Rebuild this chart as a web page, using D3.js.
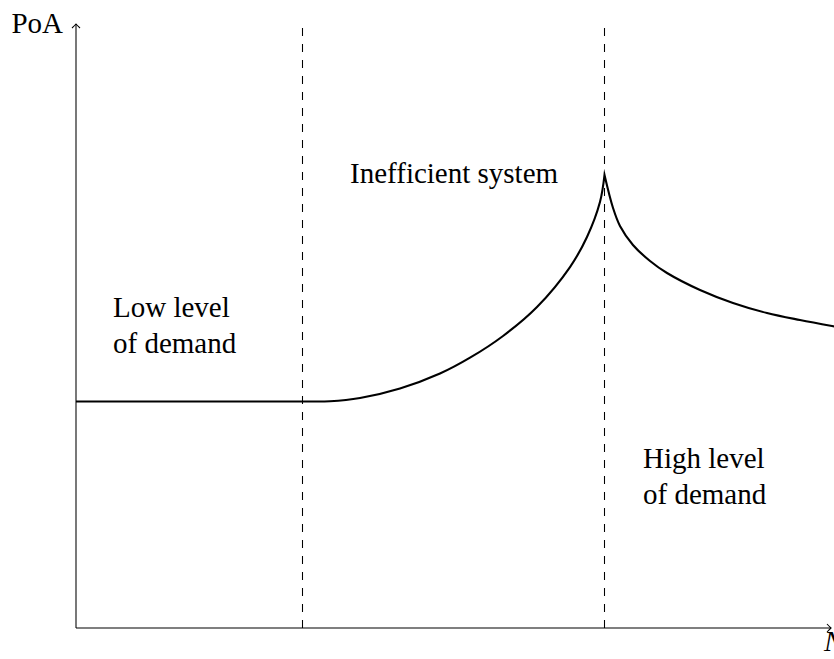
<!DOCTYPE html>
<html>
<head>
<meta charset="utf-8">
<script src="https://cdn.jsdelivr.net/npm/d3@7"></script>
<style>
  html, body { margin: 0; padding: 0; background: #fff; }
  svg { display: block; }
  text { font-family: "Liberation Serif", "Times New Roman", serif; fill: #000; }
</style>
</head>
<body>
<svg id="chart" width="834" height="659"></svg>
<script>
// ---- data (in chart units) ----
const riseX = [0, 3, 3.364, 3.762, 4.291, 4.821, 5.219, 5.656, 6.106, 6.543, 6.768, 6.94, 7];
const riseY = [3, 3, 3.003, 3.046, 3.172, 3.37, 3.58, 3.868, 4.252, 4.781, 5.179, 5.642, 6];
const fallX = [7, 7.113, 7.205, 7.377, 7.603, 7.828, 8.265, 8.702, 9.152, 9.589, 10.013, 10.1];
const fallY = [6, 5.563, 5.325, 5.073, 4.861, 4.702, 4.477, 4.305, 4.172, 4.079, 4.0, 3.985];
const boundaries = [3, 7];
const xLabel = "N";
const yLabel = "PoA";
const regionLabels = [
  { lines: ["Low level", "of demand"], x: 0.49, y: 4.119 },
  { lines: ["Inefficient system"], x: 3.63, y: 5.894 },
  { lines: ["High level", "of demand"], x: 7.51, y: 2.119 }
];

// ---- layout ----
const svg = d3.select("#chart");
const x = d3.scaleLinear().domain([0, 10]).range([76, 831]);
const y = d3.scaleLinear().domain([0, 8]).range([628, 24]);
const fontSize = 29;

// axes
const axisG = svg.append("g").attr("stroke", "#000").attr("stroke-width", 1.06).attr("fill", "none");
axisG.append("line").attr("x1", x(0)).attr("y1", y(0)).attr("x2", x(10)).attr("y2", y(0));
axisG.append("line").attr("x1", x(0)).attr("y1", y(0)).attr("x2", x(0)).attr("y2", y(8));
// arrow heads
const tipX = [x(10), y(0)];
axisG.append("path").attr("d", `M${tipX[0]-4},${tipX[1]-4} Q${tipX[0]-1},${tipX[1]-0.8} ${tipX[0]},${tipX[1]} Q${tipX[0]-1},${tipX[1]+0.8} ${tipX[0]-4},${tipX[1]+4}`);
const tipY = [x(0), y(8)];
axisG.append("path").attr("d", `M${tipY[0]-4},${tipY[1]+4} Q${tipY[0]-0.8},${tipY[1]+1} ${tipY[0]},${tipY[1]} Q${tipY[0]+0.8},${tipY[1]+1} ${tipY[0]+4},${tipY[1]+4}`);

// dashed boundaries
svg.append("g").selectAll("line").data(boundaries).join("line")
  .attr("x1", d => x(d)).attr("x2", d => x(d))
  .attr("y1", y(0)).attr("y2", y(8))
  .attr("stroke", "#000").attr("stroke-width", 1.06)
  .attr("stroke-dasharray", "8,8");

// curve
const line = d3.line().x(d => x(d[0])).y(d => y(d[1])).curve(d3.curveCatmullRom.alpha(0.5));
const rise = d3.zip(riseX, riseY);
const fall = d3.zip(fallX, fallY);
svg.append("path").attr("d", line(rise) + line(fall).replace(/^M/, "L"))
  .attr("fill", "none").attr("stroke", "#000").attr("stroke-width", 2.1)
  .attr("stroke-linejoin", "miter").attr("stroke-miterlimit", 20);

// axis labels
svg.append("text").attr("x", 63).attr("y", 33).attr("text-anchor", "end")
  .style("font-size", fontSize + "px").text(yLabel);
svg.append("text").attr("x", 824).attr("y", 651).style("font-style", "italic")
  .style("font-size", fontSize + "px").text(xLabel);

// region labels
regionLabels.forEach(r => {
  const t = svg.append("text").attr("x", x(r.x)).attr("y", y(r.y)).style("font-size", fontSize + "px");
  r.lines.forEach((ln, i) => {
    t.append("tspan").attr("x", x(r.x)).attr("dy", i === 0 ? 0 : 35.5).text(ln);
  });
});
</script>
</body>
</html>
